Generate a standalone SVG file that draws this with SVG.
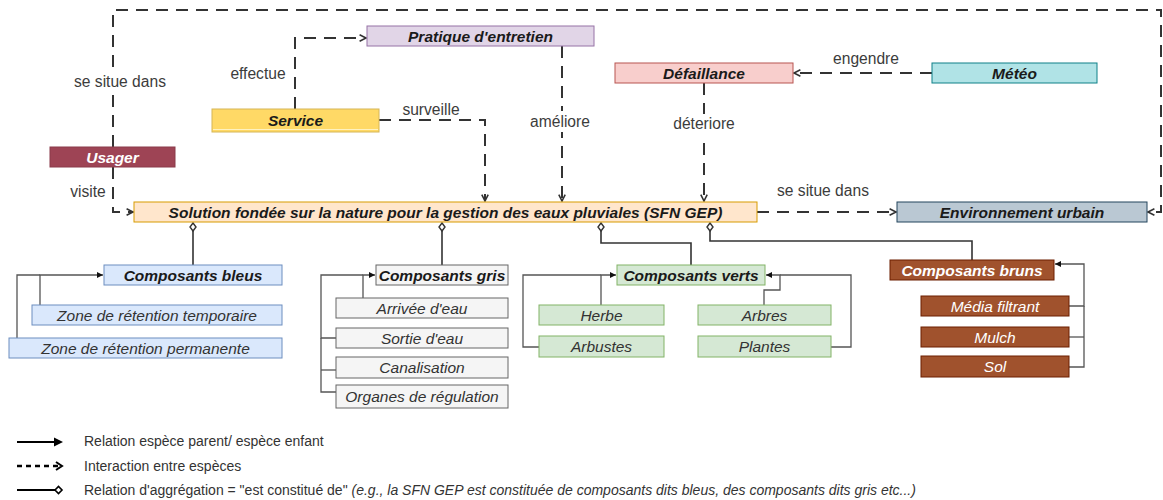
<svg xmlns="http://www.w3.org/2000/svg" width="1163" height="500" viewBox="0 0 1163 500">
<style>
text{font-family:"Liberation Sans",Arial,sans-serif}
.n{font-size:15.5px;font-weight:bold;font-style:italic;text-anchor:middle;fill:#1a1a1a}
.nw{font-size:15.5px;font-weight:bold;font-style:italic;text-anchor:middle;fill:#fff}
.c{font-size:15.5px;font-style:italic;text-anchor:middle;fill:#333}
.cw{font-size:15.5px;font-style:italic;text-anchor:middle;fill:#fff}
.lbl{font-size:15.6px;fill:#3c3c3c;text-anchor:middle}
.dash{fill:none;stroke:#333;stroke-width:2;stroke-dasharray:12 8}
.agg{fill:none;stroke:#333;stroke-width:1.6}
.hier{fill:none;stroke:#555;stroke-width:1.3}
.leg{font-size:14px;fill:#333}
.blue{fill:#dae8fc;stroke:#6c8ebf}
.grey{fill:#f5f5f5;stroke:#666}
.green{fill:#d5e8d4;stroke:#82b366}
.brown{fill:#a0522d;stroke:#6d1f00}
</style>
<defs>
<marker id="open" viewBox="0 0 10 10" refX="10" refY="5" markerWidth="8" markerHeight="8" orient="auto" markerUnits="userSpaceOnUse" overflow="visible"><path d="M2,1 L10,5 L2,9" fill="none" stroke="#333" stroke-width="2" stroke-dasharray="none"/></marker>
<marker id="fill" viewBox="0 0 10 10" refX="10" refY="5" markerWidth="6" markerHeight="6" orient="auto" markerUnits="userSpaceOnUse" overflow="visible"><path d="M0,0 L10,5 L0,10 z" fill="#111" stroke="none"/></marker>
<marker id="dia" viewBox="0 0 8 6" refX="0" refY="3" markerWidth="8" markerHeight="6" orient="auto" markerUnits="userSpaceOnUse" overflow="visible"><path d="M0,3 L4,0 L8,3 L4,6 z" fill="#fff" stroke="#333" stroke-width="1.4" stroke-dasharray="none"/></marker>
</defs>

<g id="connectors">
  <path class="dash" d="M113,147 V10 H1161 V212 H1148" marker-end="url(#open)"/>
  <path class="dash" d="M113,167 V212 H133" marker-end="url(#open)"/>
  <path class="dash" d="M295,109 V38 H366" marker-end="url(#open)"/>
  <path class="dash" d="M379,120 H485 V201" marker-end="url(#open)"/>
  <path class="dash" d="M562,46 V201" marker-end="url(#open)"/>
  <path class="dash" d="M704,83 V201" marker-end="url(#open)"/>
  <path class="dash" d="M932,73 H794" marker-end="url(#open)"/>
  <path class="dash" d="M757,212 H896" marker-end="url(#open)"/>

  <rect x="70" y="71" width="100" height="22" fill="#fff"/>
  <rect x="528" y="111" width="66" height="21" fill="#fff"/>
  <rect x="670" y="114" width="68" height="21" fill="#fff"/>
  <text class="lbl" x="120" y="87">se situe dans</text>
  <text class="lbl" x="88" y="197">visite</text>
  <text class="lbl" x="258" y="79">effectue</text>
  <text class="lbl" x="431" y="115">surveille</text>
  <text class="lbl" x="560" y="127">améliore</text>
  <text class="lbl" x="704" y="129">déteriore</text>
  <text class="lbl" x="866" y="64">engendre</text>
  <text class="lbl" x="823" y="196">se situe dans</text>

  <path class="agg" d="M193,223 V265" marker-start="url(#dia)"/>
  <path class="agg" d="M442,223 V265" marker-start="url(#dia)"/>
  <path class="agg" d="M601,223 V243 H691 V265" marker-start="url(#dia)"/>
  <path class="agg" d="M710,223 V241 H972 V260" marker-start="url(#dia)"/>

  <path class="hier" d="M40,305 V275 H103" marker-end="url(#fill)"/>
  <path class="hier" d="M17,338 V275 H40"/>

  <path class="hier" d="M363,298 V275 H375" marker-end="url(#fill)"/>
  <path class="hier" d="M336,338 H321 V275 H363"/>
  <path class="hier" d="M336,370 H321"/>
  <path class="hier" d="M336,392 H321 V338"/>

  <path class="hier" d="M601,305 V275 H616" marker-end="url(#fill)"/>
  <path class="hier" d="M539,347 H523 V275 H601"/>
  <path class="hier" d="M764,305 V290 H780 V275 H766" marker-end="url(#fill)"/>
  <path class="hier" d="M831,347 H851 V275 H780"/>

  <path class="hier" d="M1069,306 H1084 V264 H1055" marker-end="url(#fill)"/>
  <path class="hier" d="M1069,337 H1084"/>
  <path class="hier" d="M1069,367 H1084 V306"/>
</g>

<g id="usager"><rect x="50" y="147" width="125" height="20" fill="#9e4455" stroke="#8a3a4a"/><text class="nw" x="112.5" y="162.5">Usager</text></g>
<g id="service"><rect x="212" y="109" width="167" height="23" fill="#ffd966" stroke="#d6b656"/><line x1="213" y1="129.5" x2="378" y2="129.5" stroke="#fff2c0" stroke-width="1"/><text class="n" x="295.5" y="126">Service</text></g>
<g id="pratique"><rect x="367" y="26" width="227" height="20" fill="#e1d5e7" stroke="#9673a6"/><text class="n" x="480.5" y="41.5">Pratique d'entretien</text></g>
<g id="defaillance"><rect x="615" y="63" width="178" height="20" fill="#f8cecc" stroke="#b85450"/><text class="n" x="704" y="78.5">Défaillance</text></g>
<g id="meteo"><rect x="932" y="63" width="165" height="20" fill="#b0e3e6" stroke="#0e8088"/><text class="n" x="1014.5" y="78.5">Météo</text></g>
<g id="sfn"><rect x="134" y="202" width="623" height="20" fill="#ffe6cc" stroke="#d79b00"/><text class="n" x="445.5" y="217.5">Solution fondée sur la nature pour la gestion des eaux pluviales (SFN GEP)</text></g>
<g id="env"><rect x="897" y="202" width="250" height="20" fill="#bac8d3" stroke="#23445d"/><text class="n" x="1022" y="217.5">Environnement urbain</text></g>

<g id="bleus"><rect class="blue" x="104" y="265" width="178" height="20"/><text class="n" x="193" y="280.5">Composants bleus</text></g>
<g id="zone-temp"><rect class="blue" x="32" y="305" width="250" height="20"/><text class="c" x="157" y="320.5">Zone de rétention temporaire</text></g>
<g id="zone-perm"><rect class="blue" x="9" y="338" width="273" height="20"/><text class="c" x="145.5" y="353.5">Zone de rétention permanente</text></g>

<g id="gris"><rect class="grey" x="376" y="265" width="132" height="20"/><text class="n" x="442" y="280.5" fill="#333">Composants gris</text></g>
<g id="arrivee"><rect class="grey" x="336" y="298" width="172" height="20"/><text class="c" x="422" y="313.5">Arrivée d'eau</text></g>
<g id="sortie"><rect class="grey" x="336" y="328" width="172" height="20"/><text class="c" x="422" y="343.5">Sortie d'eau</text></g>
<g id="canalisation"><rect class="grey" x="336" y="357" width="172" height="21"/><text class="c" x="422" y="373">Canalisation</text></g>
<g id="organes"><rect class="grey" x="336" y="385" width="172" height="23"/><text class="c" x="422" y="402">Organes de régulation</text></g>

<g id="verts"><rect class="green" x="617" y="265" width="148" height="20"/><text class="n" x="691" y="280.5">Composants verts</text></g>
<g id="herbe"><rect class="green" x="539" y="305" width="125" height="20"/><text class="c" x="601.5" y="320.5">Herbe</text></g>
<g id="arbustes"><rect class="green" x="539" y="336" width="125" height="21"/><text class="c" x="601.5" y="352">Arbustes</text></g>
<g id="arbres"><rect class="green" x="698" y="305" width="133" height="20"/><text class="c" x="764.5" y="320.5">Arbres</text></g>
<g id="plantes"><rect class="green" x="698" y="336" width="133" height="21"/><text class="c" x="764.5" y="352">Plantes</text></g>

<g id="bruns"><rect class="brown" x="890" y="260" width="164" height="20"/><text class="nw" x="972" y="275.5">Composants bruns</text></g>
<g id="media"><rect class="brown" x="921" y="296" width="148" height="20"/><text class="cw" x="995" y="311.5">Média filtrant</text></g>
<g id="mulch"><rect class="brown" x="921" y="327" width="148" height="20"/><text class="cw" x="995" y="342.5">Mulch</text></g>
<g id="sol"><rect class="brown" x="921" y="356" width="148" height="21"/><text class="cw" x="995" y="372">Sol</text></g>

<g id="legend">
  <line x1="17" y1="442" x2="56" y2="442" stroke="#000" stroke-width="2"/>
  <polygon points="54,437.5 63,442 54,446.5" fill="#000"/>
  <line x1="17" y1="466" x2="58" y2="466" stroke="#000" stroke-width="2.5" stroke-dasharray="5 4"/>
  <polyline points="56,462 62,466 56,470" fill="none" stroke="#000" stroke-width="2"/>
  <line x1="17" y1="490" x2="55" y2="490" stroke="#000" stroke-width="2"/>
  <polygon points="55,490 58.5,486.5 62,490 58.5,493.5" fill="#fff" stroke="#000" stroke-width="1.6"/>
  <text class="leg" x="84" y="446">Relation espèce parent/ espèce enfant</text>
  <text class="leg" x="84" y="471">Interaction entre espèces</text>
  <text class="leg" x="84" y="495">Relation d'aggrégation = "est constitué de" <tspan font-style="italic">(e.g., la SFN GEP est constituée de composants dits bleus, des composants dits gris etc...)</tspan></text>
</g>
</svg>
